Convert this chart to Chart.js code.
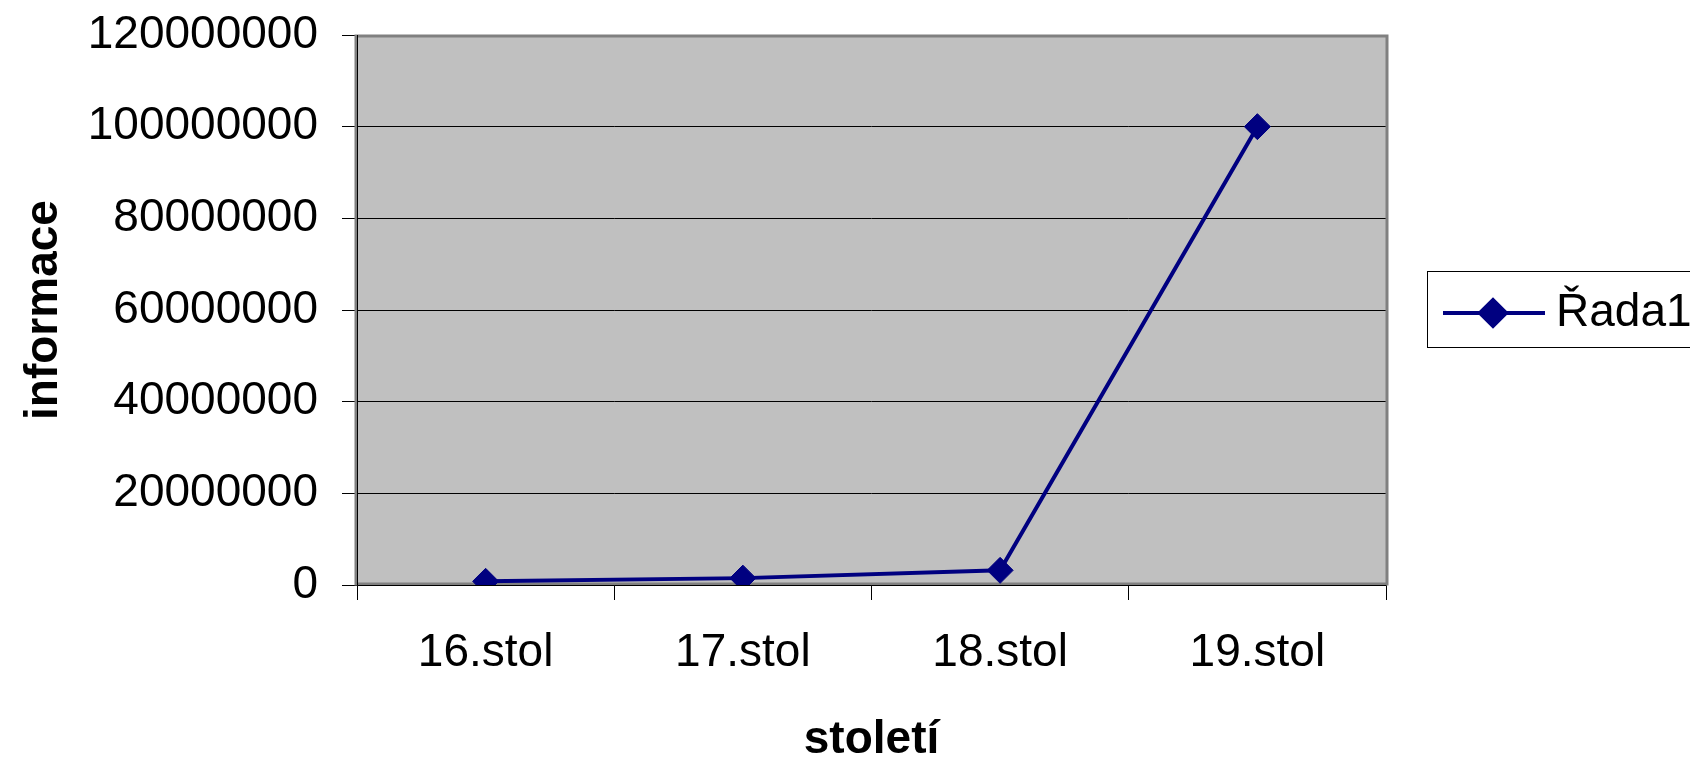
<!DOCTYPE html>
<html>
<head>
<meta charset="utf-8">
<title>informace</title>
<script src="https://cdn.jsdelivr.net/npm/chart.js@4/dist/chart.umd.min.js"></script>
<style>
	html, body { margin:0; padding:0; background:#fff; }
	#wrap { width:1690px; height:760px; }
</style>
</head>
<body>
<div id="wrap"><canvas id="chart" width="1690" height="760"></canvas></div>
<script>
var centuries = ['16.stol', '17.stol', '18.stol', '19.stol'];
var informace = [800000, 1500000, 3200000, 100000000];
var seriesName = 'Řada1';
var xTitle = 'století';
var yTitle = 'informace';

(function(){
	var font = 'Liberation Sans, Arial, sans-serif';
	var navy = '#000080';

	// gray plot area like the old excel charts
	var plotArea = {
		id:'plotArea',
		beforeDraw:function(chart){
			var a = chart.chartArea, ctx = chart.ctx;
			ctx.save();
			ctx.fillStyle = '#c0c0c0';
			ctx.fillRect(a.left, a.top, a.right - a.left, a.bottom - a.top);
			ctx.restore();
		},
		beforeDatasetsDraw:function(chart){
			var a = chart.chartArea, ctx = chart.ctx;
			ctx.save();
			ctx.strokeStyle = '#808080';
			ctx.lineWidth = 3;
			ctx.strokeRect(a.left - 1, a.top + 1, a.right - a.left + 2, a.bottom - a.top - 2);
			ctx.strokeStyle = '#000';
			ctx.lineWidth = 1;
			ctx.beginPath();
			ctx.moveTo(a.left + 0.5, a.top);
			ctx.lineTo(a.left + 0.5, a.bottom + 0.5);
			ctx.lineTo(a.right, a.bottom + 0.5);
			ctx.stroke();
			ctx.restore();
		}
	};

	// legend box with line + diamond sample
	var boxLegend = {
		id:'boxLegend',
		afterDraw:function(chart){
			var ds = chart.data.datasets[0], ctx = chart.ctx;
			var x = 1427, y = 271, h = 76;
			ctx.save();
			ctx.strokeStyle = '#000';
			ctx.lineWidth = 1;
			ctx.strokeRect(x + 0.5, y + 0.5, 400, h);
			var cy = y + 42;
			ctx.strokeStyle = ds.borderColor;
			ctx.lineWidth = 4;
			ctx.beginPath();
			ctx.moveTo(x + 16, cy);
			ctx.lineTo(x + 118, cy);
			ctx.stroke();
			Chart.helpers.drawPoint(ctx, {pointStyle:'rectRot', radius:13, borderWidth:1}, x + 66, cy);
			ctx.fillStyle = ds.pointBackgroundColor;
			ctx.fill();
			ctx.fillStyle = '#000';
			ctx.font = '46px ' + font;
			ctx.textBaseline = 'alphabetic';
			ctx.fillText(ds.label, x + 129, y + 55);
			ctx.restore();
		}
	};

	var ctx = document.getElementById('chart').getContext('2d');
	var data = {
		labels: centuries,
		datasets: [
			{
				label: seriesName,
				data: informace,
				borderColor: navy,
				backgroundColor: navy,
				borderWidth: 4,
				pointStyle: 'rectRot',
				pointRadius: 13,
				pointHoverRadius: 13,
				pointBackgroundColor: navy,
				pointBorderColor: navy,
				pointBorderWidth: 1,
				tension: 0
			}
		]
	};
	var options = {
		responsive: false,
		animation: false,
		layout: { padding: { left:0, top:35, right:304, bottom:0 } },
		plugins: { legend: { display:false }, tooltip: { enabled:false } },
		scales: {
			x: {
				offset: true,
				grid: { drawOnChartArea:false, drawTicks:true, tickLength:15, offset:true, tickColor:'#000' },
				border: { display:false },
				ticks: { color:'#000', padding:26, font:{ family:font, size:46 } },
				title: { display:true, text:xTitle, color:'#000', padding:{ top:0, bottom:-3 }, font:{ family:font, size:46, weight:'bold', lineHeight:1 } },
				afterFit:function(scale){ scale.height = 175; scale.paddingLeft = 0; scale.paddingRight = 0; }
			},
			y: {
				min: 0,
				max: 120000000,
				grid: { color:'#000', lineWidth:1, tickLength:15, tickColor:'#000' },
				border: { display:false },
				ticks: {
					stepSize: 20000000,
					color:'#000',
					padding: 24,
					font:{ family:font, size:46 },
					callback:function(v){ return String(v); }
				},
				title: { display:true, text:yTitle, color:'#000', padding:{ top:21, bottom:0 }, font:{ family:font, size:46, weight:'bold', lineHeight:1 } },
				afterFit:function(scale){ scale.width = 357; scale.paddingTop = 0; scale.paddingBottom = 0; }
			}
		}
	};

	new Chart(ctx, { type:'line', data:data, options:options, plugins:[plotArea, boxLegend] });
})();
</script>
</body>
</html>
